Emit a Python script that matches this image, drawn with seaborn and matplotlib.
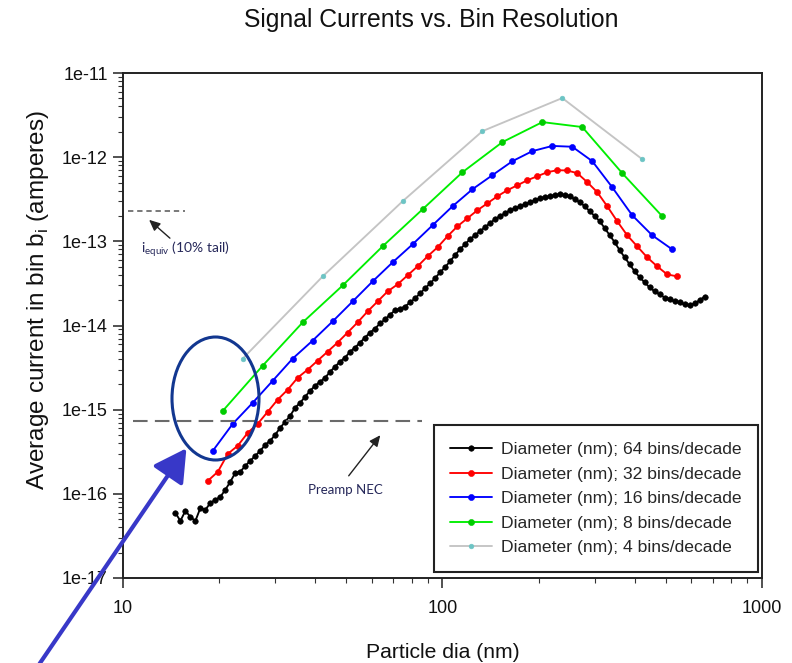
import numpy as np
import pandas as pd
import matplotlib
matplotlib.use("Agg")
import matplotlib.pyplot as plt
from matplotlib.patches import Ellipse, FancyArrowPatch
from matplotlib.ticker import FixedLocator, NullFormatter
import seaborn as sns

# Bin-centre particle diameters (nm) and mean signal current per bin (A)
d64 = [14.59, 15.12, 15.68, 16.25, 16.85, 17.47, 18.11, 18.77, 19.46, 20.17,
       20.91, 21.67, 22.47, 23.29, 24.14, 25.03, 25.95, 26.90, 27.88, 28.90,
       29.96, 31.06, 32.20, 33.38, 34.60, 35.87, 37.18, 38.54, 39.95, 41.42,
       42.94, 44.51, 46.14, 47.83, 49.58, 51.40, 53.28, 55.23, 57.25, 59.35,
       61.53, 63.78, 66.12, 68.54, 71.05, 73.65, 76.35, 79.15, 82.05, 85.05,
       88.17, 91.40, 94.75, 98.22, 101.8, 105.5, 109.4, 113.4, 117.6, 121.9,
       126.3, 131.0, 135.8, 140.7, 145.9, 151.2, 156.8, 162.5, 168.5, 174.7,
       181.1, 187.7, 194.6, 201.7, 209.1, 216.7, 224.7, 232.9, 241.4, 250.3,
       259.5, 269.0, 278.8, 289.0, 299.6, 310.6, 322.0, 333.8, 346.0, 358.7,
       371.8, 385.4, 399.5, 414.2, 429.4, 445.1, 461.4, 478.3, 495.8, 514.0,
       532.8, 552.3, 572.5, 593.5, 615.3, 637.8, 661.2]
i64 = [5.94e-17, 4.77e-17, 6.28e-17, 5.32e-17, 4.77e-17, 6.81e-17, 6.45e-17, 7.81e-17, 8.48e-17, 9.21e-17,
       1.12e-16, 1.39e-16, 1.78e-16, 1.83e-16, 2.15e-16, 2.47e-16, 2.83e-16, 3.25e-16, 3.83e-16, 4.28e-16,
       5.04e-16, 6.11e-16, 7.20e-16, 8.48e-16, 1.06e-15, 1.21e-15, 1.43e-15, 1.68e-15, 1.93e-15, 2.15e-15,
       2.40e-15, 2.83e-15, 3.25e-15, 3.73e-15, 4.16e-15, 4.90e-15, 5.47e-15, 6.28e-15, 7.20e-15, 8.25e-15,
       9.21e-15, 1.06e-14, 1.18e-14, 1.35e-14, 1.51e-14, 1.59e-14, 1.68e-14, 1.88e-14, 2.10e-14, 2.40e-14,
       2.76e-14, 3.16e-14, 3.63e-14, 4.28e-14, 4.90e-14, 5.78e-14, 6.81e-14, 8.03e-14, 9.21e-14, 1.06e-13,
       1.18e-13, 1.32e-13, 1.47e-13, 1.64e-13, 1.83e-13, 1.99e-13, 2.15e-13, 2.34e-13, 2.47e-13, 2.61e-13,
       2.76e-13, 2.91e-13, 3.08e-13, 3.25e-13, 3.34e-13, 3.43e-13, 3.53e-13, 3.63e-13, 3.53e-13, 3.43e-13,
       3.16e-13, 2.91e-13, 2.61e-13, 2.28e-13, 1.99e-13, 1.73e-13, 1.43e-13, 1.18e-13, 9.73e-14, 7.81e-14,
       6.45e-14, 5.32e-14, 4.39e-14, 3.73e-14, 3.25e-14, 2.83e-14, 2.54e-14, 2.34e-14, 2.15e-14, 2.04e-14,
       1.93e-14, 1.88e-14, 1.78e-14, 1.73e-14, 1.83e-14, 1.99e-14, 2.21e-14]

d32 = [18.44, 19.81, 21.29, 22.87, 24.58, 26.42, 28.39, 30.51, 32.78, 35.23,
       37.85, 40.68, 43.72, 46.98, 50.48, 54.25, 58.29, 62.64, 67.32, 72.34,
       77.74, 83.54, 89.77, 96.47, 103.7, 111.4, 119.7, 128.6, 138.2, 148.5,
       159.6, 171.6, 184.4, 198.1, 212.9, 228.8, 245.8, 264.2, 283.9, 305.1,
       327.8, 352.3, 378.5, 406.8, 437.2, 469.8, 504.8, 542.5]
i32 = [1.43e-16, 1.83e-16, 2.99e-16, 3.73e-16, 5.32e-16, 6.81e-16, 9.46e-16, 1.32e-15, 1.73e-15, 2.40e-15,
       2.99e-15, 3.83e-15, 4.90e-15, 6.28e-15, 8.25e-15, 1.09e-14, 1.47e-14, 1.93e-14, 2.54e-14, 3.08e-14,
       3.94e-14, 5.04e-14, 6.63e-14, 8.48e-14, 1.15e-13, 1.51e-13, 1.88e-13, 2.34e-13, 2.83e-13, 3.43e-13,
       4.05e-13, 4.64e-13, 5.32e-13, 5.94e-13, 6.63e-13, 7.00e-13, 6.95e-13, 6.45e-13, 5.04e-13, 3.83e-13,
       2.61e-13, 1.73e-13, 1.18e-13, 8.72e-14, 6.45e-14, 5.04e-14, 4.05e-14, 3.83e-14]

d16 = [19.11, 22.07, 25.48, 29.43, 33.98, 39.24, 45.32, 52.33, 60.43, 69.78, 80.59, 93.06,
       107.5, 124.1, 143.3, 165.5, 191.1, 220.7, 254.8, 294.3, 339.8, 392.4, 453.2, 523.3]
i16 = [3.25e-16, 6.81e-16, 1.21e-15, 2.21e-15, 4.05e-15, 6.63e-15, 1.12e-14, 1.93e-14, 3.34e-14, 5.62e-14,
       9.21e-14, 1.55e-13, 2.61e-13, 4.16e-13, 6.11e-13, 8.96e-13, 1.18e-12, 1.36e-12, 1.33e-12, 8.96e-13,
       4.39e-13, 2.04e-13, 1.18e-13, 8.03e-14]

d8 = [20.54, 27.38, 36.52, 48.70, 64.94, 86.60, 115.5, 154.0, 205.4, 273.8, 365.2, 487.0]
i8 = [9.7e-16, 3.34e-15, 1.09e-14, 2.99e-14, 8.72e-14, 2.40e-13, 6.63e-13, 1.51e-12, 2.61e-12, 2.28e-12,
      6.45e-13, 1.99e-13]

d4 = [23.71, 42.17, 74.99, 133.4, 237.1, 421.7]
i4 = [4.05e-15, 3.83e-14, 2.99e-13, 2.04e-12, 5.04e-12, 9.46e-13]

series_labels = ["Diameter (nm); 64 bins/decade", "Diameter (nm); 32 bins/decade",
                 "Diameter (nm); 16 bins/decade", "Diameter (nm); 8 bins/decade",
                 "Diameter (nm); 4 bins/decade"]

y_ticks = [1e-17, 1e-16, 1e-15, 1e-14, 1e-13, 1e-12, 1e-11]
y_tick_labels = ["1e-17", "1e-16", "1e-15", "1e-14", "1e-13", "1e-12", "1e-11"]
x_ticks = [10, 100, 1000]
x_tick_labels = ["10", "100", "1000"]

# reference levels
i_equiv_level = 2.28e-13     # 10% tail equivalent current
preamp_nec_level = 7.4e-16   # preamplifier noise-equivalent current

sns.set_theme(style="ticks")
plt.rcParams["font.family"] = ["Liberation Sans", "DejaVu Sans"]
plt.rcParams["mathtext.fontset"] = "custom"
plt.rcParams["mathtext.rm"] = "Liberation Sans"

W, H = 792, 663
fig = plt.figure(figsize=(W / 100, H / 100), dpi=100)
ax = fig.add_axes([123 / W, 1 - 578 / H, (762 - 123) / W, (578 - 73) / H])

styles = [
    (d64, i64, "#000000", "#000000", 4.0),
    (d32, i32, "#ff0000", "#ff0000", 4.4),
    (d16, i16, "#0000ff", "#0000ff", 4.4),
    (d8, i8, "#00ee00", "#00cc00", 4.4),
    (d4, i4, "#c4c4c4", "#6cc4c4", 3.4),
]
for (d, cur, lc, mc, ms), lab in zip(styles, series_labels):
    df = pd.DataFrame({"diameter": d, "current": cur})
    sns.lineplot(data=df, x="diameter", y="current", ax=ax, color=lc,
                 marker="o", markersize=ms, markerfacecolor=mc, markeredgecolor=mc,
                 markeredgewidth=0.4, linewidth=1.35, estimator=None, sort=False,
                 label=lab)

ax.set_xscale("log")
ax.set_yscale("log")
ax.set_xlim(10, 1000)
ax.set_ylim(1e-17, 1e-11)

ax.yaxis.set_major_locator(FixedLocator(y_ticks))
ax.set_yticklabels(y_tick_labels)
ax.yaxis.set_minor_locator(FixedLocator(
    [m * 10.0 ** e for e in range(-17, -11) for m in range(2, 10)]))
ax.yaxis.set_minor_formatter(NullFormatter())
ax.xaxis.set_major_locator(FixedLocator(x_ticks))
ax.set_xticklabels(x_tick_labels)
ax.xaxis.set_minor_locator(FixedLocator(
    [m * 10.0 ** e for e in range(1, 3) for m in range(2, 10)]))
ax.xaxis.set_minor_formatter(NullFormatter())

ax.tick_params(which="major", direction="out", length=7, width=1.1,
               labelsize=13, colors="#222222", labelcolor="#111111")
ax.tick_params(axis="y", which="major", pad=4)
ax.tick_params(axis="x", which="major", pad=9)
ax.tick_params(which="minor", direction="out", length=3.5, width=0.8, colors="#333333")
for sp in ax.spines.values():
    sp.set_visible(True)
    sp.set_color("#222222")
    sp.set_linewidth(1.4)
ax.set_xlabel("")
ax.set_ylabel("")

# reference lines
ax.hlines(i_equiv_level, 10.4, 15.6, colors="#555555", linewidth=1.1,
          linestyles=(0, (3.5, 2.5)))
ax.hlines(preamp_nec_level, 10.75, 86.5, colors="#6a6a6a", linewidth=1.5,
          linestyles=(0, (7, 3.5)))

leg = ax.legend(loc="lower right", bbox_to_anchor=(0.994, 0.012), frameon=True,
                fancybox=False, framealpha=1, edgecolor="#222222", fontsize=12.6,
                handlelength=2.4, handletextpad=0.5, labelspacing=0.53,
                borderpad=0.95, borderaxespad=0)
leg.get_frame().set_linewidth(1.5)


def fp(x, y):
    return (x / W, 1 - y / H)


# titles and axis labels
fig.text(*fp(431, 20), "Signal Currents vs. Bin Resolution", ha="center", va="center",
         fontsize=17.8, color="#111111")
fig.text(*fp(443, 652), "Particle dia (nm)", ha="center", va="center",
         fontsize=15.2, color="#111111")
fig.text(*fp(38, 300), r"Average current in bin b$_\mathregular{i}$ (amperes)",
         ha="center", va="center", rotation=90, fontsize=17.5, color="#111111")

# annotations
ann_font = ["Lato", "DejaVu Sans"]
fig.text(*fp(141, 249), r"$\mathregular{i_{equiv}}$ (10% tail)", ha="left", va="center",
         fontsize=10, color="#26285a", family=ann_font)
fig.add_artist(FancyArrowPatch(fp(172, 240), fp(147, 218), transform=fig.transFigure,
                               arrowstyle="-|>,head_length=0.55,head_width=0.25",
                               mutation_scale=12, color="#222222", lw=1.0))
fig.text(*fp(345, 490), "Preamp NEC", ha="center", va="center",
         fontsize=9.5, color="#26285a", family=ann_font)
fig.add_artist(FancyArrowPatch(fp(347, 478), fp(382, 433), transform=fig.transFigure,
                               arrowstyle="-|>,head_length=0.55,head_width=0.25",
                               mutation_scale=12, color="#222222", lw=1.0))

fig.add_artist(Ellipse(fp(215.5, 398.5), 87 / W, 123 / H, transform=fig.transFigure,
                       fill=False, edgecolor="#123790", linewidth=2.2))
fig.add_artist(FancyArrowPatch(fp(38, 666), fp(188, 446), transform=fig.transFigure,
                               arrowstyle="-|>,head_length=0.9,head_width=0.5",
                               mutation_scale=22, color="#3838c8", lw=3.0))

fig.savefig("out.png", dpi=100, facecolor="white")
